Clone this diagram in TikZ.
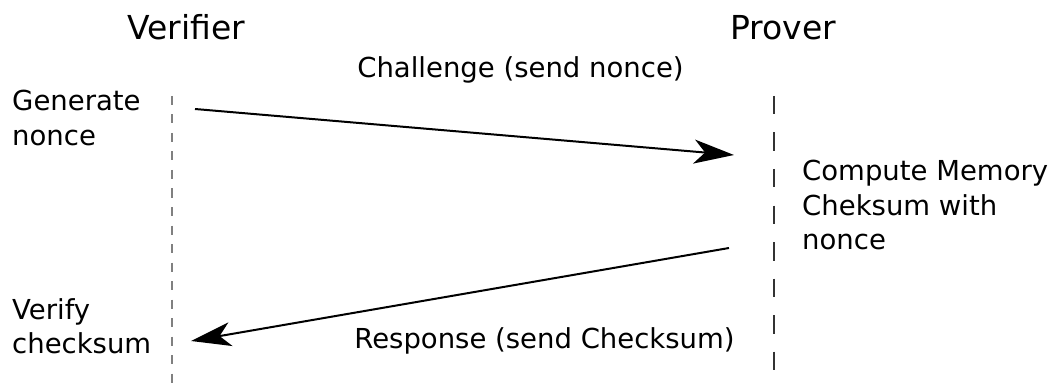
\documentclass[tikz,border=0pt]{standalone}
\usepackage{fontspec}
\setmainfont{DejaVu Sans}
\usetikzlibrary{arrows.meta}

\begin{document}
\begin{tikzpicture}[x=1pt, y=1pt, yscale=-1, xscale=1,
  lbl/.style={inner sep=0pt, align=left, font=\fontsize{27.5}{34.5}\selectfont},
  head/.style={inner sep=0pt, font=\fontsize{33}{39}\selectfont},
  msg/.style={line width=2pt, -{Stealth[length=40pt, width=24pt, inset=11pt]}}]
\useasboundingbox (0,0) rectangle (1050,385);
% lifelines
\node[head, anchor=base] (verifier) at (186,40) {Verifier};
\node[head, anchor=base] (prover) at (783,40) {Prover};
\coordinate (vtop) at (172,96);
\coordinate (vbot) at (172,385);
\coordinate (ptop) at (774,96);
\coordinate (pbot) at (774,385);
\draw[gray, line width=1.5pt, dash pattern=on 9pt off 9.5pt] (vtop) -- (vbot);
\draw[black!80, line width=1.3pt, dash pattern=on 18.5pt off 18pt] (ptop) -- (pbot);
% steps
\node[lbl, anchor=north west] (gen) at (12,90) {Generate\\nonce};
\node[lbl, anchor=north west] (verify) at (12,298) {Verify\\checksum};
\node[lbl, anchor=north west] (compute) at (802,160) {Compute Memory\\Cheksum with\\nonce};
% messages
\coordinate (cstart) at (195,109);
\coordinate (cend) at (734,155);
\coordinate (rstart) at (729,248);
\coordinate (rend) at (191,341);
\draw[msg] (cstart) -- (cend);
\draw[msg] (rstart) -- (rend);
\node[lbl, anchor=base] (challenge) at (520.5,78) {Challenge (send nonce)};
\node[lbl, anchor=base] (response) at (544.5,348) {Response (send Checksum)};
\end{tikzpicture}
\end{document}
